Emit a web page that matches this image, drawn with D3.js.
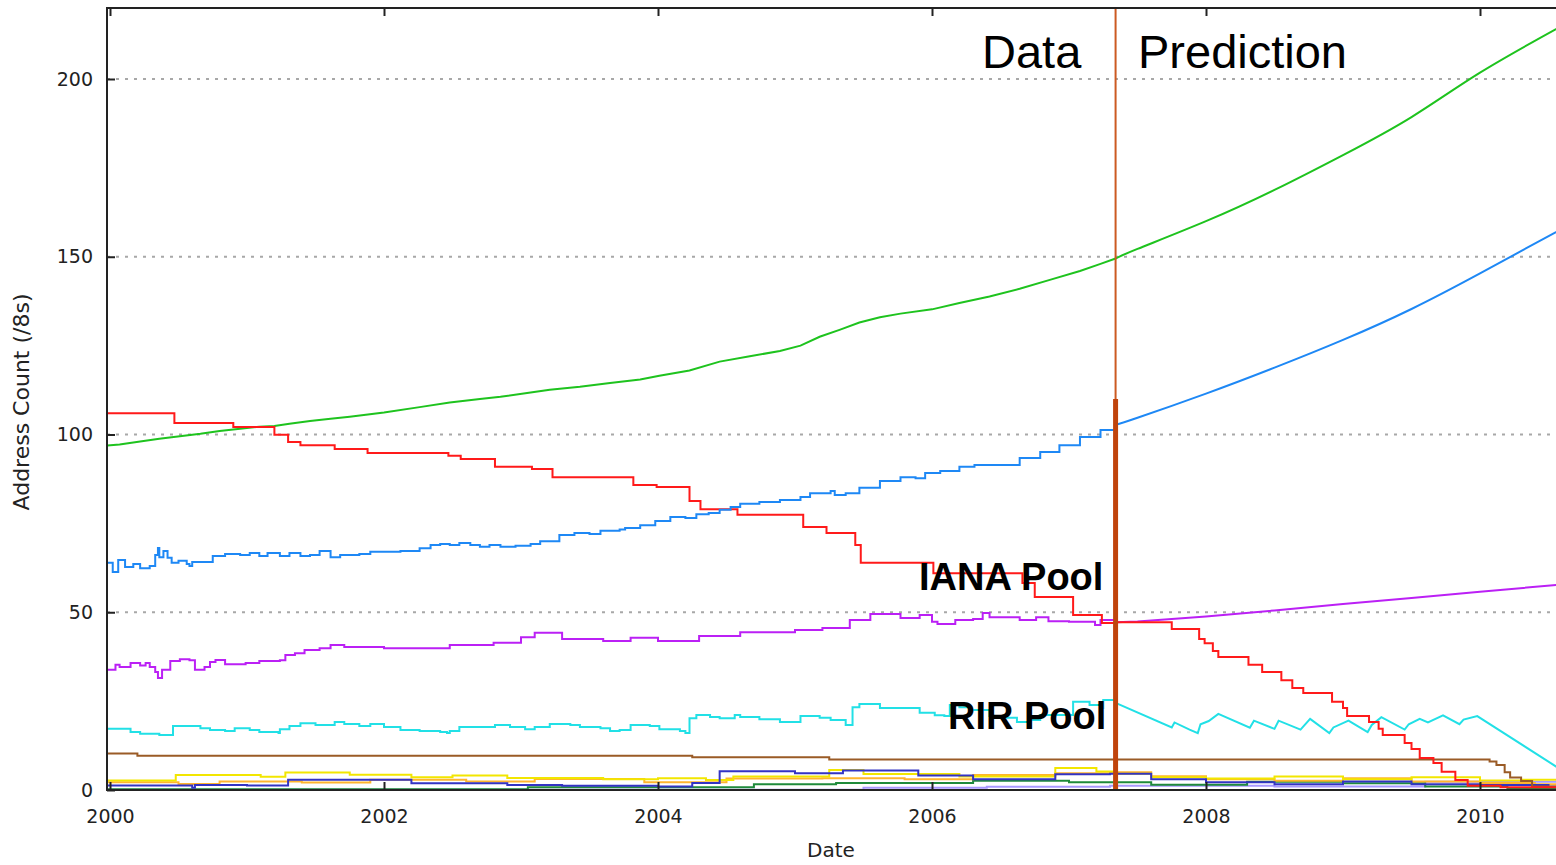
<!DOCTYPE html>
<html>
<head>
<meta charset="utf-8">
<script src="https://cdn.jsdelivr.net/npm/d3@7"></script>
<style>
  body { margin: 0; background: #fff; }
  .tick text { font-family: 'DejaVu Sans', sans-serif; font-size: 19px; fill: #222; }
</style>
</head>
<body>
<div id="chart"></div>
<script>
// year / value (/8 blocks) pairs
const cutover = 2007.34

const ianaData = [[1999.98, 106.0], [2000.47, 103.2], [2000.90, 102.1], [2001.20, 99.9], [2001.30, 97.9],
  [2001.39, 97.0], [2001.64, 95.9], [2001.88, 94.8], [2002.47, 94.0], [2002.56, 93.1], [2002.81, 90.9],
  [2003.08, 90.3], [2003.23, 88.0], [2003.82, 85.8], [2003.99, 85.2], [2004.23, 81.3], [2004.31, 79.0],
  [2004.58, 77.4], [2005.06, 74.0], [2005.23, 72.3], [2005.44, 68.9], [2005.48, 63.9], [2006.01, 61.0],
  [2006.66, 58.2], [2006.75, 54.3], [2007.03, 49.2], [2007.24, 47.0], [2007.34, 47.2]]
const ianaPred = [[2007.34, 47.2], [2007.75, 45.3], [2007.95, 42.5], [2007.99, 41.3], [2008.05, 39.1],
  [2008.09, 37.4], [2008.31, 35.2], [2008.41, 33.2], [2008.55, 30.9], [2008.63, 28.7], [2008.71, 27.3],
  [2008.92, 24.8], [2009.00, 23.1], [2009.03, 20.8], [2009.19, 19.1], [2009.26, 17.2], [2009.29, 15.5],
  [2009.45, 13.2], [2009.50, 11.5], [2009.56, 9.0], [2009.66, 7.6], [2009.72, 5.1], [2009.82, 2.8],
  [2009.91, 1.2], [2010.15, 0.8], [2010.6, 0.8]]

const allocData = [[1999.98, 96.9], [2000.07, 97.2], [2000.22, 98.0], [2000.36, 98.8], [2000.51, 99.5],
  [2000.66, 100.2], [2000.80, 101.0], [2000.95, 101.6], [2001.09, 102.2], [2001.20, 102.4], [2001.31, 103.0],
  [2001.46, 103.8], [2001.61, 104.4], [2001.75, 105.0], [2002.00, 106.2], [2002.26, 107.7], [2002.48, 109.0],
  [2002.70, 110.0], [2002.85, 110.6], [2003.07, 111.8], [2003.21, 112.6], [2003.43, 113.4], [2003.65, 114.5],
  [2003.87, 115.5], [2004.01, 116.5], [2004.23, 118.0], [2004.45, 120.5], [2004.67, 122.0], [2004.89, 123.5],
  [2005.04, 125.0], [2005.18, 127.5], [2005.33, 129.5], [2005.47, 131.5], [2005.62, 133.0], [2005.77, 134.0],
  [2006.00, 135.2], [2006.20, 137.0], [2006.42, 138.8], [2006.64, 141.0], [2006.86, 143.5], [2007.08, 146.0],
  [2007.23, 148.0], [2007.34, 149.5]]
const allocPred = [[2007.34, 149.5], [2007.5, 152.2], [2008.0, 160.0], [2008.5, 168.8], [2009.0, 178.6],
  [2009.5, 189.3], [2010.0, 201.8], [2010.6, 215.0]]

const advData = [[1999.98, 63.9], [2000.02, 61.3], [2000.06, 64.7], [2000.11, 62.7], [2000.17, 63.6],
  [2000.22, 62.4], [2000.29, 63.0], [2000.33, 66.1], [2000.35, 68.1], [2000.36, 65.5], [2000.39, 67.2],
  [2000.42, 65.3], [2000.45, 63.9], [2000.50, 64.5], [2000.56, 63.6], [2000.58, 63.0], [2000.60, 64.1],
  [2000.73, 64.1], [2000.75, 65.8], [2000.84, 66.4], [2000.95, 66.1], [2001.02, 66.7], [2001.09, 65.8],
  [2001.15, 66.7], [2001.24, 65.8], [2001.31, 66.7], [2001.39, 65.8], [2001.46, 66.1], [2001.53, 67.2],
  [2001.61, 65.5], [2001.68, 66.1], [2001.75, 66.1], [2001.82, 66.4], [2001.90, 67.0], [2002.12, 67.2],
  [2002.26, 68.0], [2002.34, 68.9], [2002.41, 69.2], [2002.48, 68.9], [2002.55, 69.5], [2002.63, 68.9],
  [2002.70, 68.4], [2002.77, 68.9], [2002.85, 68.4], [2002.96, 68.7], [2003.07, 69.2], [2003.14, 70.0],
  [2003.28, 71.7], [2003.39, 72.3], [2003.50, 72.0], [2003.58, 72.9], [2003.72, 73.3], [2003.76, 73.7],
  [2003.87, 74.5], [2003.98, 75.7], [2004.09, 76.8], [2004.20, 76.5], [2004.28, 77.6], [2004.37, 77.9],
  [2004.45, 78.8], [2004.53, 79.6], [2004.60, 80.5], [2004.74, 81.0], [2004.89, 81.6], [2005.04, 82.4],
  [2005.11, 83.5], [2005.26, 84.1], [2005.29, 83.0], [2005.37, 83.5], [2005.47, 85.0], [2005.62, 86.9],
  [2005.77, 88.0], [2005.88, 87.7], [2005.95, 89.2], [2006.06, 89.7], [2006.20, 90.9], [2006.31, 91.4],
  [2006.42, 91.4], [2006.64, 93.4], [2006.79, 95.1], [2006.93, 97.0], [2007.08, 99.3], [2007.23, 101.3],
  [2007.34, 102.7]]
const advPred = [[2007.34, 102.7], [2007.5, 104.7], [2008.0, 111.5], [2008.5, 118.8], [2009.0, 126.6],
  [2009.5, 135.3], [2010.0, 145.3], [2010.6, 157.9]]

const unadvData = [[1999.98, 33.8], [2000.04, 35.2], [2000.07, 34.6], [2000.15, 35.7], [2000.22, 35.0],
  [2000.26, 35.7], [2000.29, 34.6], [2000.33, 33.2], [2000.35, 31.5], [2000.38, 33.8], [2000.44, 36.3],
  [2000.51, 36.8], [2000.58, 36.5], [2000.62, 33.8], [2000.69, 34.6], [2000.73, 36.0], [2000.77, 36.6],
  [2000.84, 35.4], [2000.99, 35.7], [2001.09, 36.3], [2001.24, 36.5], [2001.28, 38.0], [2001.35, 38.5],
  [2001.42, 39.4], [2001.53, 39.9], [2001.61, 40.8], [2001.71, 40.2], [2002.00, 39.9], [2002.48, 40.8],
  [2002.80, 41.4], [2003.00, 43.0], [2003.10, 44.2], [2003.30, 42.5], [2003.60, 41.9], [2003.80, 42.8],
  [2004.00, 41.9], [2004.30, 43.3], [2004.60, 44.4], [2005.00, 45.0], [2005.20, 45.6], [2005.40, 47.8],
  [2005.55, 49.5], [2005.77, 48.4], [2005.91, 49.2], [2006.00, 47.3], [2006.04, 46.7], [2006.17, 47.8],
  [2006.30, 48.1], [2006.37, 49.8], [2006.42, 48.6], [2006.64, 47.8], [2006.76, 48.6], [2006.85, 47.5],
  [2007.00, 47.3], [2007.19, 46.4], [2007.23, 47.8], [2007.34, 47.2]]
const unadvPred = [[2007.34, 47.2], [2007.5, 47.4], [2008.0, 48.8], [2008.5, 50.5], [2009.0, 52.3],
  [2009.5, 54.0], [2010.0, 55.8], [2010.6, 57.8]]

const rirData = [[1999.98, 17.2], [2000.15, 16.3], [2000.22, 15.8], [2000.36, 15.5], [2000.46, 18.0],
  [2000.66, 17.4], [2000.73, 16.9], [2000.84, 16.6], [2000.91, 17.4], [2001.02, 16.9], [2001.09, 16.3],
  [2001.23, 16.0], [2001.24, 17.1], [2001.31, 18.0], [2001.39, 18.8], [2001.50, 18.3], [2001.64, 19.1],
  [2001.71, 18.6], [2001.82, 18.0], [2001.90, 18.6], [2002.00, 17.7], [2002.12, 16.9], [2002.26, 16.6],
  [2002.41, 16.3], [2002.46, 16.0], [2002.48, 16.6], [2002.55, 17.7], [2002.81, 18.3], [2002.92, 17.7],
  [2003.03, 17.1], [2003.10, 17.7], [2003.21, 18.6], [2003.36, 18.3], [2003.43, 17.7], [2003.58, 17.4],
  [2003.65, 16.6], [2003.72, 16.9], [2003.80, 18.3], [2003.94, 18.0], [2004.01, 17.1], [2004.16, 16.6],
  [2004.20, 16.0], [2004.23, 20.2], [2004.28, 21.1], [2004.38, 20.5], [2004.45, 20.2], [2004.56, 21.1],
  [2004.60, 20.5], [2004.74, 19.9], [2004.89, 19.1], [2005.04, 20.8], [2005.18, 20.3], [2005.26, 19.7],
  [2005.37, 18.3], [2005.42, 23.3], [2005.47, 24.2], [2005.62, 23.1], [2005.91, 21.7], [2006.02, 21.0],
  [2006.09, 20.8], [2006.13, 23.9], [2006.20, 23.3], [2006.28, 22.5], [2006.42, 20.8], [2006.50, 20.3],
  [2006.62, 19.1], [2006.71, 19.7], [2006.79, 21.1], [2007.03, 24.8], [2007.15, 23.9], [2007.23, 23.1],
  [2007.25, 25.3], [2007.34, 23.8]]
const rirPred = [[2007.34, 24.5], [2007.75, 17.6], [2007.77, 19.0], [2007.88, 17.0], [2007.94, 16.0],
  [2007.96, 18.5], [2008.02, 19.4], [2008.09, 21.4], [2008.32, 17.5], [2008.35, 19.5], [2008.50, 17.2],
  [2008.53, 19.5], [2008.69, 17.0], [2008.76, 20.0], [2008.90, 16.0], [2008.93, 17.6], [2009.04, 19.5],
  [2009.18, 16.3], [2009.21, 18.3], [2009.28, 20.5], [2009.45, 17.0], [2009.48, 18.5], [2009.56, 20.0],
  [2009.62, 19.0], [2009.73, 21.0], [2009.85, 18.5], [2009.88, 19.8], [2009.98, 20.8], [2010.6, 5.5]]

const reservedData = [[1999.98, 10.3], [2000.20, 9.6], [2004.25, 9.2], [2005.25, 8.6], [2010.07, 8.0],
  [2010.12, 7.0], [2010.18, 5.0], [2010.22, 3.5], [2010.30, 2.5], [2010.38, 1.0], [2010.6, 1.0]]

const yellowData = [[1999.98, 2.7], [2000.48, 4.2], [2001.10, 3.7], [2001.28, 4.9], [2001.75, 4.3],
  [2002.20, 3.6], [2002.50, 4.1], [2002.90, 3.4], [2003.60, 3.0], [2004.00, 3.3], [2004.35, 2.8],
  [2004.55, 3.8], [2005.25, 5.6], [2005.50, 4.5], [2006.20, 3.8], [2006.90, 6.2], [2007.20, 5.2],
  [2007.35, 4.6], [2007.60, 3.6], [2008.00, 3.2], [2008.50, 3.8], [2009.00, 3.0], [2009.50, 3.6],
  [2010.00, 2.7], [2010.30, 2.9], [2010.6, 2.9]]
const orangeData = [[1999.98, 2.2], [2000.50, 1.7], [2000.80, 2.4], [2001.40, 2.1], [2001.90, 2.9],
  [2002.60, 2.4], [2003.10, 3.1], [2003.90, 2.2], [2004.50, 3.2], [2005.20, 3.3], [2005.80, 3.0],
  [2006.30, 4.2], [2006.90, 4.7], [2007.30, 5.0], [2007.60, 3.9], [2008.00, 3.0], [2008.50, 2.6],
  [2009.00, 3.3], [2009.50, 2.4], [2010.00, 2.0], [2010.40, 1.6], [2010.6, 1.6]]
const blueData = [[1999.98, 1.3], [2000.60, 0.6], [2000.62, 1.4], [2001.00, 1.3], [2001.30, 2.9],
  [2002.20, 1.9], [2002.90, 1.4], [2003.30, 1.2], [2004.00, 1.0], [2004.25, 2.0], [2004.45, 5.3],
  [2005.00, 4.7], [2005.35, 5.5], [2005.90, 4.1], [2006.30, 3.0], [2006.90, 4.4], [2007.30, 4.6],
  [2007.60, 3.0], [2008.00, 2.2], [2008.50, 1.6], [2009.00, 2.4], [2009.50, 1.6], [2010.00, 1.4],
  [2010.50, 0.9], [2010.6, 0.9]]
const greenData = [[1999.98, 0.2], [2003.05, 0.8], [2004.70, 1.6], [2005.30, 2.0], [2006.30, 2.6],
  [2007.00, 2.2], [2007.60, 1.5], [2008.30, 2.3], [2009.00, 1.9], [2009.60, 1.0], [2010.20, 0.5], [2010.6, 0.5]]
const lavenderData = [[1999.98, 0.1], [2005.50, 0.6], [2006.40, 0.9], [2007.30, 1.2], [2008.50, 1.0],
  [2009.60, 2.3], [2010.6, 2.3]]

const yearTicks = [2000, 2002, 2004, 2006, 2008, 2010]
const countTicks = [0, 50, 100, 150, 200]

const series = [
  { data: lavenderData, color: '#a898ff', curve: d3.curveStepAfter },
  { data: greenData, color: '#1f8a3c', curve: d3.curveStepAfter },
  { data: orangeData, color: '#ffb52e', curve: d3.curveStepAfter },
  { data: yellowData, color: '#f2e600', curve: d3.curveStepAfter },
  { data: blueData, color: '#3333c4', curve: d3.curveStepAfter },
  { data: reservedData, color: '#9a5b26', curve: d3.curveStepAfter },
  { data: rirData, color: '#22e0e6', curve: d3.curveStepAfter },
  { data: rirPred, color: '#22e0e6', curve: d3.curveLinear },
  { data: unadvData, color: '#bb20f5', curve: d3.curveStepAfter },
  { data: unadvPred, color: '#bb20f5', curve: d3.curveLinear },
  { data: allocData, color: '#1ec31e', curve: d3.curveLinear },
  { data: allocPred, color: '#1ec31e', curve: d3.curveNatural },
  { data: ianaData, color: '#ff1a1a', curve: d3.curveStepAfter },
  { data: ianaPred, color: '#ff1a1a', curve: d3.curveStepAfter },
  { data: advData, color: '#1e88f5', curve: d3.curveStepAfter },
  { data: advPred, color: '#1e88f5', curve: d3.curveNatural }
]

const width = 1556
const height = 865
const plot = { left: 107, top: 8, right: 1560, bottom: 790 }

const x = d3.scaleLinear().domain([2000, 2010]).range([110, 1480])
const y = d3.scaleLinear().domain([0, 200]).range([plot.bottom, 79])

const svg = d3
  .select('#chart')
  .append('svg')
  .attr('width', width)
  .attr('height', height)
  .style('display', 'block')

svg.append('defs')
  .append('clipPath')
  .attr('id', 'plotclip')
  .append('rect')
  .attr('x', plot.left)
  .attr('y', plot.top)
  .attr('width', plot.right - plot.left)
  .attr('height', plot.bottom - plot.top)

// dotted grid, no line at zero
svg.append('g')
  .selectAll('line')
  .data(countTicks.filter(d => d > 0))
  .enter()
  .append('line')
  .attr('x1', plot.left)
  .attr('x2', plot.right)
  .attr('y1', d => y(d))
  .attr('y2', d => y(d))
  .attr('stroke', '#a8a8a8')
  .attr('stroke-width', 2)
  .attr('stroke-dasharray', '3,6')

const lines = svg.append('g').attr('clip-path', 'url(#plotclip)')

series.forEach(s => {
  const line = d3.line()
    .x(d => x(d[0]))
    .y(d => y(d[1]))
    .curve(s.curve)
  lines.append('path')
    .datum(s.data)
    .attr('d', line)
    .attr('fill', 'none')
    .attr('stroke', s.color)
    .attr('stroke-width', 2)
})

// data / prediction divider
svg.append('line')
  .attr('x1', x(cutover)).attr('x2', x(cutover))
  .attr('y1', plot.top).attr('y2', plot.bottom)
  .attr('stroke', '#cc5a22')
  .attr('stroke-width', 2)
svg.append('line')
  .attr('x1', x(cutover)).attr('x2', x(cutover))
  .attr('y1', y(110)).attr('y2', plot.bottom)
  .attr('stroke', '#c0440c')
  .attr('stroke-width', 5)

// axes (ticks point inward)
svg.append('g')
  .attr('transform', `translate(0,${plot.bottom})`)
  .call(d3.axisBottom(x).tickValues(yearTicks).tickFormat(d3.format('d')).tickSizeInner(-8).tickSizeOuter(0).tickPadding(20))
  .call(g => g.select('.domain').remove())
svg.append('g')
  .attr('transform', `translate(0,${plot.top})`)
  .call(d3.axisTop(x).tickValues(yearTicks).tickFormat('').tickSizeInner(-8).tickSizeOuter(0))
  .call(g => g.select('.domain').remove())
svg.append('g')
  .attr('transform', `translate(${plot.left},0)`)
  .call(d3.axisLeft(y).tickValues(countTicks).tickSizeInner(-8).tickSizeOuter(0).tickPadding(14))
  .call(g => g.select('.domain').remove())

svg.selectAll('.tick line').attr('stroke', '#222').attr('stroke-width', 2)

// frame
svg.append('path')
  .attr('d', `M${plot.right},${plot.top}H${plot.left}V${plot.bottom}H${plot.right}`)
  .attr('fill', 'none')
  .attr('stroke', '#222')
  .attr('stroke-width', 2)

svg.append('text')
  .attr('transform', `translate(29,402) rotate(-90)`)
  .attr('text-anchor', 'middle')
  .attr('font-family', 'DejaVu Sans, sans-serif')
  .attr('font-size', 22)
  .attr('fill', '#222')
  .text('Address Count (/8s)')

svg.append('text')
  .attr('x', 831)
  .attr('y', 857)
  .attr('text-anchor', 'middle')
  .attr('font-family', 'DejaVu Sans, sans-serif')
  .attr('font-size', 20)
  .attr('fill', '#222')
  .text('Date')

// annotations
const bigText = [
  { t: 'Data', x: 982, y: 68, size: 47, weight: 'normal' },
  { t: 'Prediction', x: 1138, y: 68, size: 47, weight: 'normal' },
  { t: 'IANA Pool', x: 919, y: 590, size: 38, weight: 'bold' },
  { t: 'RIR Pool', x: 948, y: 729, size: 38, weight: 'bold' }
]
svg.append('g')
  .selectAll('text')
  .data(bigText)
  .enter()
  .append('text')
  .attr('x', d => d.x)
  .attr('y', d => d.y)
  .attr('font-family', 'Liberation Sans, Arial, sans-serif')
  .attr('font-size', d => d.size)
  .attr('font-weight', d => d.weight)
  .attr('fill', '#000')
  .text(d => d.t)
</script>
</body>
</html>
